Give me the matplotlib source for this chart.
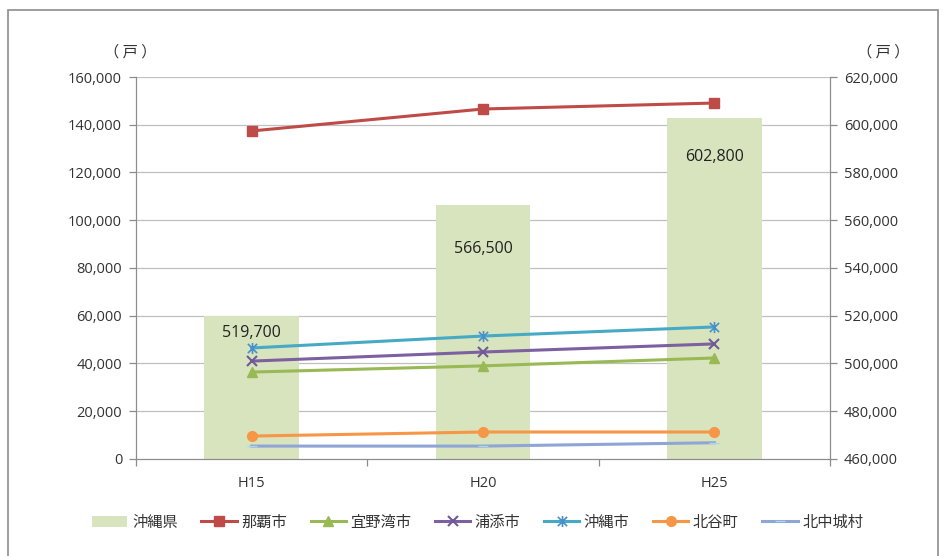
import matplotlib
matplotlib.use("Agg")
import matplotlib.pyplot as plt
import numpy as np
from matplotlib.path import Path
from matplotlib.patches import Rectangle
from matplotlib.ticker import FuncFormatter

plt.rcParams['font.family'] = ['Noto Sans CJK JP', 'DejaVu Sans']

# 住宅戸数 (戸)
years = ["H15", "H20", "H25"]
okinawa_pref = [519700, 566500, 602800]
naha = [137400, 146600, 149100]
ginowan = [36400, 39000, 42300]
urasoe = [41000, 44800, 48200]
okinawa_city = [46500, 51500, 55300]
chatan = [9600, 11300, 11300]
kitanakagusuku = [5400, 5400, 6800]

# Excel風のアスタリスク型マーカー
star = Path([(-1, -1), (1, 1), (-1, 1), (1, -1), (0, -1.2), (0, 1.2)],
            [Path.MOVETO, Path.LINETO, Path.MOVETO, Path.LINETO, Path.MOVETO, Path.LINETO])

series = [
    ("那覇市", naha, "#BE4B48", dict(marker="s", markersize=7)),
    ("宜野湾市", ginowan, "#98B954", dict(marker="^", markersize=7)),
    ("浦添市", urasoe, "#7D60A0", dict(marker="x", markersize=7, markeredgewidth=1.5, markeredgecolor="#6E5A96")),
    ("沖縄市", okinawa_city, "#46AAC5", dict(marker=star, markersize=8, markeredgewidth=1.2, markeredgecolor="#4A8FCB")),
    ("北谷町", chatan, "#F79646", dict(marker="o", markersize=7)),
    ("北中城村", kitanakagusuku, "#8FA5D6", dict(marker="_", markersize=7, markeredgecolor="#A8D8EA")),
]

fig = plt.figure(figsize=(9.46, 5.56), dpi=100)
ax = fig.add_axes([0.1438, 0.1745, 0.7336, 0.687])
ax2 = ax.twinx()

x = np.arange(len(years))
grid_c = "#C0C0C0"
num_font = ["Open Sans", "DejaVu Sans"]

# 沖縄県 (右軸) の棒
ax2.bar(x, okinawa_pref, width=0.41, color="#D7E4BD", zorder=1, label="沖縄県")
ax2.set_ylim(460000, 620000)
ax2.set_yticks(np.arange(460000, 620001, 20000))
label_dy = [-7000, -18500, -16300]
for xi, v, dy in zip(x, okinawa_pref, label_dy):
    ax2.text(xi, v + dy, f"{v:,}", ha="center", va="center", fontsize=11.5,
             color="#222222", family=num_font, zorder=3)

# 市町村 (左軸) の折れ線は棒より手前に描く
ax.set_zorder(ax2.get_zorder() + 1)
ax.patch.set_visible(False)
for name, vals, col, mk in series:
    ax.plot(x, vals, color=col, linewidth=2.2, label=name,
            markerfacecolor=mk.pop("markerfacecolor", col),
            markeredgecolor=mk.pop("markeredgecolor", col), **mk)

ax.set_ylim(0, 160000)
ax.set_yticks(np.arange(0, 160001, 20000))
ax.set_xlim(-0.5, 2.5)
ax.set_xticks(x)
ax.set_xticklabels(years)
ax.set_xticks([-0.5, 0.5, 1.5, 2.5], minor=True)

# 目盛線は右軸側に描いて棒の下に置く
for v in np.arange(480000, 620001, 20000):
    ax2.axhline(v, color=grid_c, linewidth=0.9, zorder=0)

fmt = FuncFormatter(lambda v, p: f"{int(v):,}")
ax.yaxis.set_major_formatter(fmt)
ax2.yaxis.set_major_formatter(fmt)

for a in (ax, ax2):
    for s in a.spines.values():
        s.set_color("#8C8C8C")
    a.spines["top"].set_visible(False)
    a.tick_params(axis="both", which="both", color="#8C8C8C", length=5, width=0.9)
    for lbl in a.get_yticklabels() + a.get_xticklabels():
        lbl.set_fontfamily(num_font)
        lbl.set_fontsize(10.5)
        lbl.set_color("#333333")
ax.tick_params(axis="x", which="major", length=0, pad=12)
ax.tick_params(axis="x", which="minor", length=5)
ax.tick_params(axis="y", pad=5)
ax2.tick_params(axis="y", pad=5)

fig.text(0.1375, 0.906, "（ 戸 ）", ha="center", va="center", fontsize=11, color="#333333")
fig.text(0.934, 0.906, "（ 戸 ）", ha="center", va="center", fontsize=11, color="#333333")

# 外枠
fig.patches.append(Rectangle((8 / 946, -0.05), 930 / 946, 1.032, transform=fig.transFigure,
                             fill=False, edgecolor="#8C8C8C", linewidth=1.2))

h2, l2 = ax2.get_legend_handles_labels()
h1, l1 = ax.get_legend_handles_labels()
fig.legend(h2 + h1, l2 + l1, loc="center", bbox_to_anchor=(0.505, 0.061), ncol=7,
           frameon=False, fontsize=11, handlelength=2.3, columnspacing=1.55,
           handletextpad=0.3, labelcolor="#333333")

fig.savefig("out.png", dpi=100)
